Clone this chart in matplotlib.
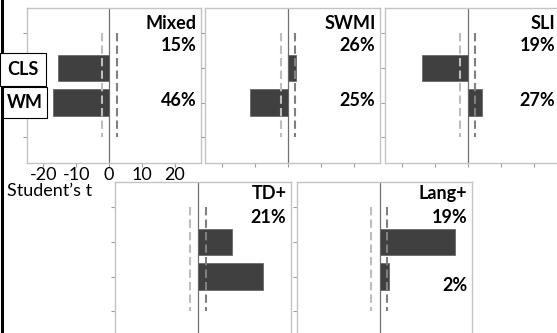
import matplotlib
matplotlib.use("Agg")
from matplotlib import pyplot as plt
from matplotlib.patches import Rectangle
from matplotlib.lines import Line2D

groups = ["Mixed", "SWMI", "SLI", "TD+", "Lang+"]
cls_t = [-15.5, 2.6, -13.7, 10.2, 22.7]
wm_t = [-17.2, -11.3, 4.3, 19.5, 2.8]
pct_top = ["15%", "26%", "19%", "21%", "19%"]
pct_low = ["46%", "25%", "27%", "", "2%"]
crit_lo = [-2.1, -2.1, -2.4, -2.5, -2.5]
crit_hi = [2.4, 2.4, 2.3, 2.3, 2.2]
xticks = [-20, -10, 0, 10, 20]
measures = ["CLS", "WM"]

W, H = 557, 333
plt.rcParams["font.family"] = ["Lato", "DejaVu Sans"]
fig = plt.figure(figsize=(W / 100, H / 100), dpi=100)

# panel boxes in pixels: left, right, top, bottom
boxes = [(27, 201, 8, 163), (205, 380, 8, 163), (385, 560, 8, 163),
         (115, 291, 182, 337), (297, 472, 182, 337)]
pct_low_y = [0.406, 0.406, 0.406, 0.406, 0.335]
name_y = [0.897, 0.897, 0.897, 0.929, 0.929]
top_y = [0.761, 0.761, 0.761, 0.774, 0.774]

fs = 13
frame = "#c4c4c4"
for i, g in enumerate(groups):
    l, r, t, b = boxes[i]
    ax = fig.add_axes([l / W, 1 - b / H, (r - l) / W, (b - t) / H])
    ax.barh([1, 2], [cls_t[i], wm_t[i]], height=0.75, color="#404040",
            edgecolor="#6a6a6a", linewidth=0.6, zorder=2)
    ax.axvline(0, color="#707070", lw=0.9, zorder=1)
    ax.plot([crit_lo[i]] * 2, [0, 3], color="#bdbdbd", lw=1.5, ls=(0, (4, 2)), zorder=3)
    ax.plot([crit_hi[i]] * 2, [0, 3], color="#808080", lw=1.5, ls=(0, (4, 2)), zorder=3)
    ax.set_xlim(-25, 28)
    ax.set_ylim(3.74, -0.72)
    ax.set_yticks([0, 1, 2, 3])
    ax.set_yticklabels([])
    ax.set_xticks(xticks)
    if i == 0:
        ax.set_xticklabels([str(v) for v in xticks], fontsize=fs)
    else:
        ax.set_xticklabels([])
    ax.tick_params(length=3, width=0.8, color="#a0a0a0", pad=0)
    for s in ax.spines.values():
        s.set_color(frame)
        s.set_linewidth(1.0)
    ax.text(0.975, name_y[i], g, transform=ax.transAxes, ha="right", va="center",
            fontsize=fs, fontweight="bold")
    ax.text(0.975, top_y[i], pct_top[i], transform=ax.transAxes, ha="right",
            va="center", fontsize=fs, fontweight="bold")
    if pct_low[i]:
        ax.text(0.975, pct_low_y[i], pct_low[i], transform=ax.transAxes, ha="right",
                va="center", fontsize=fs, fontweight="bold")

# measure label boxes on the left
label_boxes = [(0, 46, 53, 86), (3, 47, 87, 118)]
for name, (l, r, t, b) in zip(measures, label_boxes):
    fig.patches.append(Rectangle((l / W, 1 - b / H), (r - l) / W, (b - t) / H,
                                 transform=fig.transFigure, facecolor="white",
                                 edgecolor="black", lw=0.8, zorder=5))
    fig.text(7 / W, 1 - (t + b) / 2 / H, name, ha="left", va="center",
             fontsize=fs, fontweight="bold", zorder=6)

fig.text(7 / W, 1 - 191 / H, "Student\u2019s t", ha="left", va="center", fontsize=fs)
fig.lines.append(Line2D([1.5 / W, 1.5 / W], [0, 1], transform=fig.transFigure,
                        color="black", lw=2.2))

fig.savefig("out.png", dpi=100)
